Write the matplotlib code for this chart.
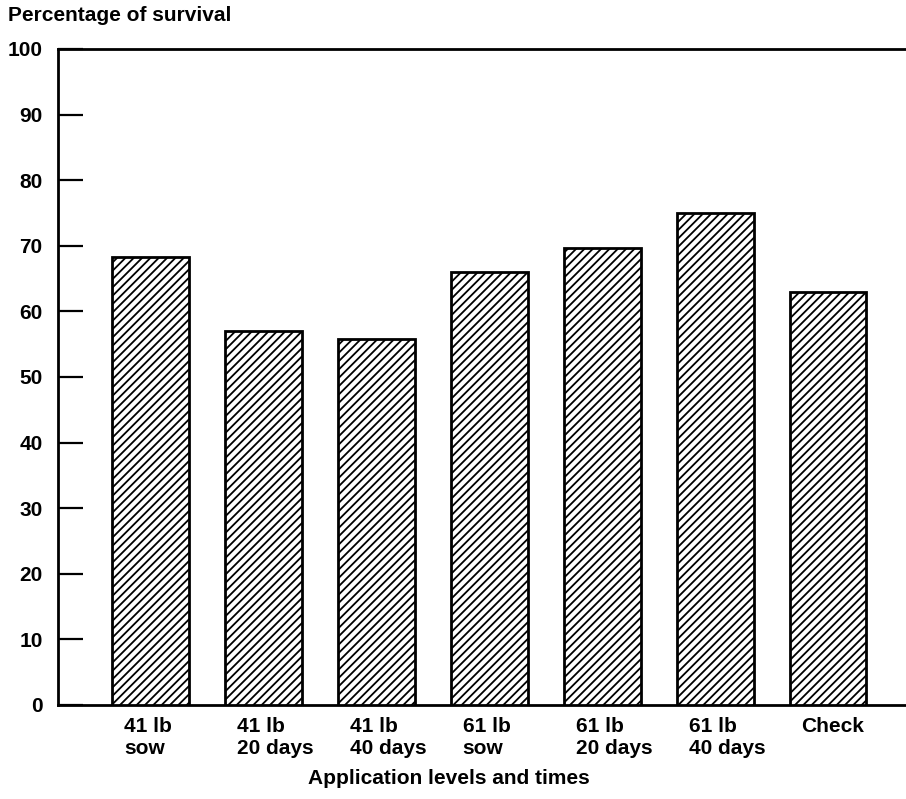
import matplotlib.pyplot as plt

plt.rcParams['font.family'] = ['Liberation Sans', 'DejaVu Sans']
plt.rcParams['hatch.linewidth'] = 1.3

categories = ['41 lb\nsow', '41 lb\n20 days', '41 lb\n40 days',
              '61 lb\nsow', '61 lb\n20 days', '61 lb\n40 days', 'Check']
survival = [68.3, 57.0, 55.8, 66.0, 69.7, 75.0, 63.0]
yticks = [0, 10, 20, 30, 40, 50, 60, 70, 80, 90, 100]

fig = plt.figure(figsize=(9.06, 7.99), dpi=100)
ax = fig.add_axes([58/906, 94/799, 848/906, 656/799])

pos = list(range(len(categories)))
ax.bar(pos, survival, width=0.68, color='white', edgecolor='black',
       linewidth=2, hatch='////', zorder=3)

ax.set_xlim(-0.82, 6.69)
ax.set_ylim(0, 100)

ax.spines['right'].set_visible(False)
for s in ['left', 'top', 'bottom']:
    ax.spines[s].set_linewidth(2)

ax.set_yticks(yticks)
ax.set_yticklabels([str(v) for v in yticks], fontsize=15, fontweight='bold')
ax.tick_params(axis='y', direction='in', length=18, width=1.6, pad=11)

ax.set_xticks([])
for p, lab in zip(pos, categories):
    ax.text(p - 0.235, -1.9, lab, ha='left', va='top', fontsize=15,
            fontweight='bold', linespacing=1.15)

fig.text(8/906, 1 - 6/799, 'Percentage of survival', ha='left', va='top',
         fontsize=15, fontweight='bold')
fig.text(449/906, 1 - 778/799, 'Application levels and times', ha='center',
         va='center', fontsize=15, fontweight='bold')

fig.savefig('out.png', dpi=100)
